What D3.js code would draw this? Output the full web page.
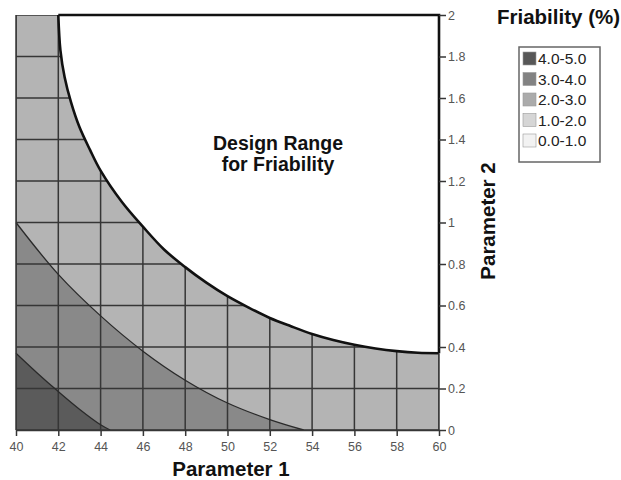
<!DOCTYPE html>
<html>
<head>
  <meta charset="UTF-8">
  <title>Friability</title>
  <script src="https://d3js.org/d3.v7.min.js"></script>
  <style>
    body { margin: 0; padding: 0; background: #fff; }
    text { font-family: "Liberation Sans", Arial, sans-serif; }
  </style>
</head>
<body>
  <div id="chart"></div>
  <script>
    // ticks
    const xTicks = d3.range(40, 60.001, 2);
    const yTicks = [0, 0.2, 0.4, 0.6, 0.8, 1, 1.2, 1.4, 1.6, 1.8, 2];

    // contour boundaries [param1, param2]
    const edge45 = [[40, 0.37], [41, 0.275], [42, 0.185], [43, 0.1], [44, 0.025], [44.45, 0]];
    const edge34 = [[40, 1.0], [42, 0.75], [44, 0.55], [46, 0.38], [48, 0.24], [50, 0.13], [52, 0.05], [53.6, 0]];
    const edgeDesign = [[42, 2.0], [42.1, 1.83], [42.3, 1.7], [42.6, 1.58], [43, 1.46], [43.5, 1.35], [44, 1.25],
                        [45, 1.1], [46, 0.98], [47, 0.87], [48, 0.785], [49, 0.71], [50, 0.645], [51, 0.59],
                        [52, 0.54], [53, 0.5], [54, 0.463], [55, 0.434], [56, 0.411], [57, 0.393], [58, 0.38],
                        [59, 0.372], [60, 0.37]];

    const legendLabels = ["4.0-5.0", "3.0-4.0", "2.0-3.0", "1.0-2.0", "0.0-1.0"];
    const legendColors = ["#575757", "#828282", "#ababab", "#d6d6d6", "#f2f2f2"];

    const W = 621, H = 480;
    const margin = {top: 15, left: 16};
    const width = 423, height = 415;

    const svg = d3.select("#chart").append("svg")
      .attr("width", W).attr("height", H)
      .style("font-family", "'Liberation Sans', Arial, sans-serif");

    const g = svg.append("g").attr("transform", `translate(${margin.left},${margin.top})`);

    const x = d3.scaleLinear().domain([40, 60]).range([0, width]);
    const y = d3.scaleLinear().domain([0, 2]).range([height, 0]);

    const curve = d3.curveCatmullRom.alpha(0.5);
    const pathOf = pts => d3.line().x(d => x(d[0])).y(d => y(d[1])).curve(curve)(pts);

    // regions, drawn from back to front
    const lightPath = pathOf(edgeDesign) + `L${x(60)},${y(0)}L${x(40)},${y(0)}L${x(40)},${y(2)}Z`;
    g.append("path").attr("d", lightPath).attr("fill", "#b4b4b4");

    const midPath = pathOf(edge34) + `L${x(40)},${y(0)}Z`;
    g.append("path").attr("d", midPath).attr("fill", "#898989");

    const darkPath = pathOf(edge45) + `L${x(40)},${y(0)}Z`;
    g.append("path").attr("d", darkPath).attr("fill", "#5b5b5b");

    // grid only outside the design range
    svg.append("defs").append("clipPath").attr("id", "outside")
      .append("path").attr("d", lightPath);

    const grid = g.append("g").attr("clip-path", "url(#outside)");
    grid.selectAll(".vx").data(xTicks).enter().append("line")
      .attr("x1", d => x(d)).attr("x2", d => x(d))
      .attr("y1", 0).attr("y2", height)
      .attr("stroke", "#363636").attr("stroke-width", 1.5);
    grid.selectAll(".hy").data(yTicks).enter().append("line")
      .attr("x1", 0).attr("x2", width)
      .attr("y1", d => y(d)).attr("y2", d => y(d))
      .attr("stroke", "#363636").attr("stroke-width", 1.5);

    // contour lines
    [edge45, edge34].forEach(pts => {
      g.append("path").attr("d", pathOf(pts))
        .attr("fill", "none").attr("stroke", "#2a2a2a").attr("stroke-width", 1.3);
    });

    // design range border
    const last = edgeDesign[edgeDesign.length - 1];
    g.append("path").attr("d", `M${x(60)},${y(last[1])}L${x(60)},${y(2)}L${x(edgeDesign[0][0])},${y(2)}`)
      .attr("fill", "none").attr("stroke", "#111").attr("stroke-width", 2.6);
    g.append("path").attr("d", pathOf(edgeDesign))
      .attr("fill", "none").attr("stroke", "#111").attr("stroke-width", 2.6);

    // axes
    const xAxis = g.append("g")
      .attr("transform", `translate(0,${height})`)
      .call(d3.axisBottom(x).tickValues(xTicks).tickSize(6).tickPadding(6).tickSizeOuter(0));
    xAxis.select(".domain").attr("stroke", "#363636").attr("stroke-width", 1.5);
    xAxis.selectAll(".tick line").attr("stroke", "#363636").attr("stroke-width", 1.5);
    xAxis.selectAll(".tick text").attr("fill", "#555").style("font-size", "12.5px")
      .style("font-family", "'Liberation Sans', Arial, sans-serif");

    const yAxis = g.append("g")
      .attr("transform", `translate(${width},0)`)
      .call(d3.axisRight(y).tickValues(yTicks).tickFormat(d3.format("~g")).tickSize(7).tickPadding(2).tickSizeOuter(0));
    yAxis.select(".domain").remove();
    yAxis.selectAll(".tick line").attr("stroke", "#363636").attr("stroke-width", 1.5);
    yAxis.selectAll(".tick text").attr("fill", "#555").style("font-size", "12.5px")
      .style("font-family", "'Liberation Sans', Arial, sans-serif");

    // plot edges outside the design range
    g.append("line").attr("x1", 0).attr("x2", 0).attr("y1", 0).attr("y2", height)
      .attr("stroke", "#363636").attr("stroke-width", 1.5);
    g.append("line").attr("x1", x(60)).attr("x2", x(60)).attr("y1", y(last[1])).attr("y2", height)
      .attr("stroke", "#363636").attr("stroke-width", 1.5);

    // labels
    g.append("text")
      .attr("x", 262).attr("y", 135)
      .attr("text-anchor", "middle")
      .style("font-size", "19.5px").style("font-weight", "bold").attr("fill", "#111")
      .text("Design Range");
    g.append("text")
      .attr("x", 262).attr("y", 156)
      .attr("text-anchor", "middle")
      .style("font-size", "19.5px").style("font-weight", "bold").attr("fill", "#111")
      .text("for Friability");

    svg.append("text")
      .attr("x", 231).attr("y", 476)
      .attr("text-anchor", "middle")
      .style("font-size", "20.5px").style("font-weight", "bold").attr("fill", "#111")
      .text("Parameter 1");

    svg.append("text")
      .attr("transform", "translate(495,221) rotate(-90)")
      .attr("text-anchor", "middle")
      .style("font-size", "20.5px").style("font-weight", "bold").attr("fill", "#111")
      .text("Parameter 2");

    // legend
    svg.append("text")
      .attr("x", 497).attr("y", 24)
      .style("font-size", "20.5px").style("font-weight", "bold").attr("fill", "#111")
      .text("Friability (%)");

    svg.append("rect")
      .attr("x", 519).attr("y", 47).attr("width", 81).attr("height", 115)
      .attr("fill", "#fff").attr("stroke", "#666").attr("stroke-width", 1.5);

    const leg = svg.selectAll(".leg").data(legendLabels).enter().append("g")
      .attr("transform", (d, i) => `translate(523,${52 + i * 20.5})`);
    leg.append("rect")
      .attr("width", 13).attr("height", 13)
      .attr("fill", (d, i) => legendColors[i])
      .attr("stroke", "#999").attr("stroke-width", 0.6);
    leg.append("text")
      .attr("x", 15).attr("y", 12)
      .style("font-size", "15.5px").attr("fill", "#222")
      .text(d => d);
  </script>
</body>
</html>
